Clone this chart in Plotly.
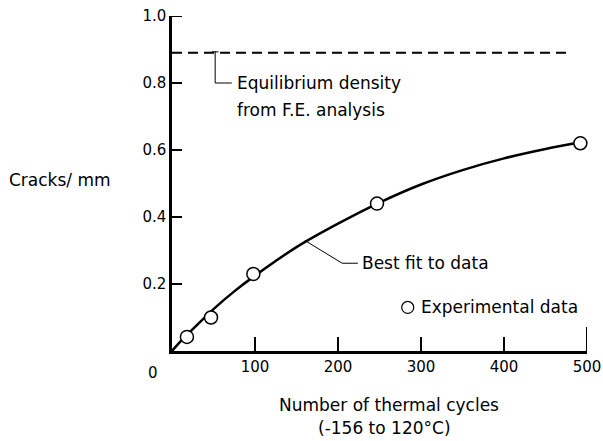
import plotly.graph_objects as go

# Experimental data (cycles, cracks/mm)
exp_cycles = [18, 47, 98, 247, 492]
exp_density = [0.042, 0.10, 0.23, 0.44, 0.62]

# Best-fit curve
fit_cycles = [0, 10, 25, 50, 75, 100, 150, 200, 250, 300, 350, 400, 450, 492]
fit_density = [0.0, 0.028, 0.065, 0.125, 0.178, 0.225, 0.31, 0.38, 0.443, 0.497, 0.54, 0.575, 0.603, 0.623]

# Equilibrium density from F.E. analysis
equil_cycles = [0, 480]
equil_density = [0.89, 0.89]

x_ticks = [100, 200, 300, 400, 500]
y_ticks = [0.2, 0.4, 0.6, 0.8, 1.0]
y_ticklabels = ["0.2", "0.4", "0.6", "0.8", "1.0"]

X_MAX = 500
Y_MAX = 1.0
FONT = "DejaVu Sans, sans-serif"

fig = go.Figure()
fig.add_trace(go.Scatter(x=equil_cycles, y=equil_density, mode="lines",
                         line=dict(color="black", width=2, dash="10px,6px"),
                         showlegend=False, hoverinfo="skip"))
fig.add_trace(go.Scatter(x=fit_cycles, y=fit_density, mode="lines",
                         line=dict(color="black", width=2.5, shape="spline"),
                         showlegend=False, hoverinfo="skip"))
fig.add_trace(go.Scatter(x=exp_cycles, y=exp_density, mode="markers",
                         marker=dict(symbol="circle", size=13, color="white",
                                     line=dict(color="black", width=1.5)),
                         showlegend=False, cliponaxis=False))
# legend marker
fig.add_trace(go.Scatter(x=[284], y=[0.13], mode="markers",
                         marker=dict(symbol="circle", size=12, color="white",
                                     line=dict(color="black", width=1.2)),
                         showlegend=False))
# leader lines
fig.add_trace(go.Scatter(x=[52, 52, 72], y=[0.895, 0.80, 0.80], mode="lines",
                         line=dict(color="black", width=1), showlegend=False))
fig.add_trace(go.Scatter(x=[48, 56], y=[0.893, 0.893], mode="lines",
                         line=dict(color="black", width=1), showlegend=False))
fig.add_trace(go.Scatter(x=[160, 205, 224], y=[0.33, 0.262, 0.262], mode="lines",
                         line=dict(color="black", width=1), showlegend=False))

# inward tick marks built from the tick arrays
xt_x, xt_y = [], []
for v in x_ticks:
    tick_len = 0.072 if v == X_MAX else 0.042
    xt_x += [v, v, None]
    xt_y += [0, tick_len, None]
yt_x, yt_y = [], []
for v in y_ticks:
    yt_x += [0, 12, None]
    yt_y += [v, v, None]
fig.add_trace(go.Scatter(x=xt_x, y=xt_y, mode="lines", line=dict(color="black", width=2),
                         showlegend=False, hoverinfo="skip", cliponaxis=False))
fig.add_trace(go.Scatter(x=yt_x, y=yt_y, mode="lines", line=dict(color="black", width=2),
                         showlegend=False, hoverinfo="skip", cliponaxis=False))

ann = [
    dict(x=76, y=0.80, text="Equilibrium density", xanchor="left", yanchor="middle"),
    dict(x=76, y=0.72, text="from F.E. analysis", xanchor="left", yanchor="middle"),
    dict(x=227, y=0.262, text="Best fit to data", xanchor="left", yanchor="middle"),
    dict(x=297, y=0.13, text="Experimental data", xanchor="left", yanchor="middle"),
    dict(x=-135, y=0.51, text="Cracks/ mm", xanchor="center", yanchor="middle"),
    dict(x=-23, y=-0.065, text="0", xanchor="center", yanchor="middle", font=dict(size=15)),
    dict(x=262, y=-0.162, text="Number of thermal cycles", xanchor="center", yanchor="middle"),
    dict(x=256, y=-0.23, text="(-156 to 120°C)", xanchor="center", yanchor="middle"),
]
for a in ann:
    a.setdefault("font", dict(size=17))
    a["font"].update(family=FONT, color="black")
    a["x"] = a["x"] / X_MAX
    fig.add_annotation(xref="paper", yref="paper", showarrow=False, **a)

fig.update_layout(
    width=603, height=441,
    margin=dict(l=172, r=16, t=16, b=90),
    plot_bgcolor="white", paper_bgcolor="white",
    font=dict(family=FONT, color="black", size=15),
    xaxis=dict(range=[0, X_MAX], tickmode="array", tickvals=x_ticks,
               ticks="inside", ticklen=14, tickwidth=1.5, tickcolor="black",
               showline=True, linecolor="black", linewidth=2.5,
               showgrid=False, zeroline=False, automargin=False,
               tickfont=dict(size=15)),
    yaxis=dict(range=[0, Y_MAX], tickmode="array", tickvals=y_ticks, ticktext=y_ticklabels,
               ticks="inside", ticklen=10, tickwidth=1.5, tickcolor="black",
               showline=True, linecolor="black", linewidth=2.5, showgrid=False,
               zeroline=False, automargin=False,
               tickfont=dict(size=15)),
)

fig.write_html("out.html", config={"displayModeBar": False},
               post_script="document.body.style.margin='0';document.body.style.overflow='hidden';")
